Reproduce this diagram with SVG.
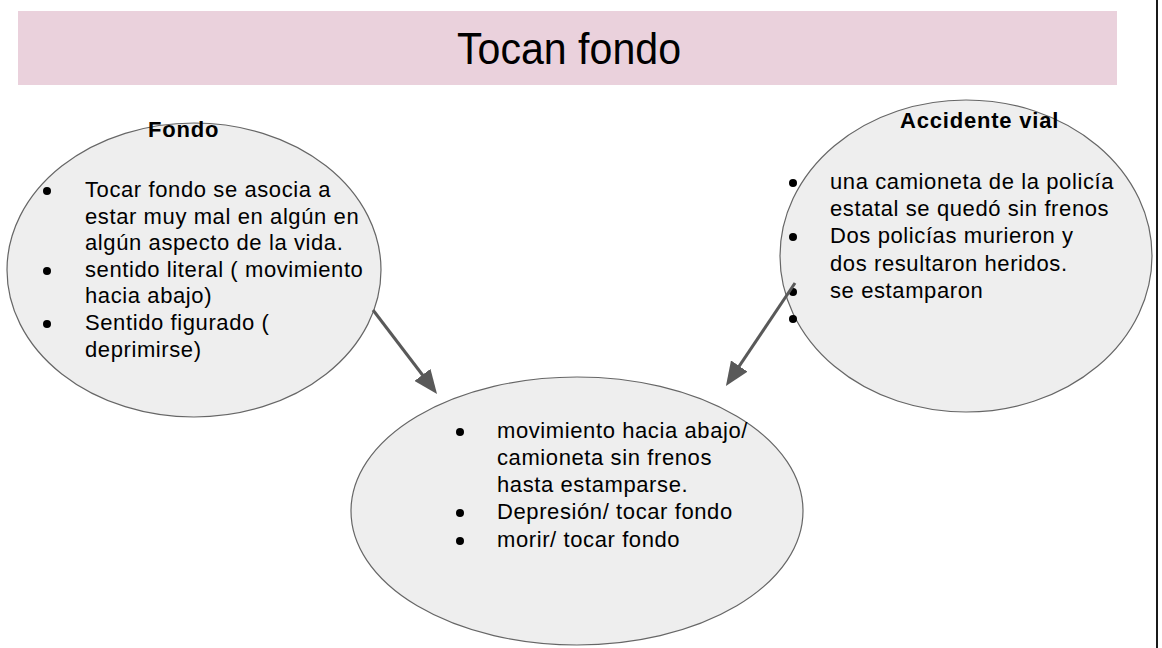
<svg xmlns="http://www.w3.org/2000/svg" width="1162" height="648" viewBox="0 0 1162 648">
  <style>
    .bub { fill: #eeeeee; stroke: #666666; stroke-width: 1.2; }
    .txt { font-family: "Liberation Sans", Arial, sans-serif; font-size: 22px; fill: #000000; letter-spacing: 0.6px; }
    .hd { font-family: "Liberation Sans", Arial, sans-serif; font-size: 22px; font-weight: bold; fill: #000000; letter-spacing: 0.8px; }
    .title { font-family: "Liberation Sans", Arial, sans-serif; font-size: 45px; fill: #000000; }
    .conn { stroke: #595959; stroke-width: 3; fill: none; }
    .dot { fill: #000000; }
  </style>
  <defs>
    <marker id="ah" viewBox="0 0 24 20" refX="2" refY="10" markerWidth="24" markerHeight="20" markerUnits="userSpaceOnUse" orient="auto">
      <path d="M0,0 L24,10 L0,20 z" fill="#595959"/>
    </marker>
  </defs>
  <rect x="0" y="0" width="1162" height="648" fill="#ffffff"/>
  <line x1="1157" y1="0" x2="1157" y2="648" stroke="#000000" stroke-width="1.8"/>

  <g id="title">
    <rect x="18" y="11" width="1099" height="74" fill="#ead1dc"/>
    <text class="title" x="457" y="64" textLength="224" lengthAdjust="spacingAndGlyphs">Tocan fondo</text>
  </g>

  <g id="fondo">
    <ellipse class="bub" cx="194" cy="270" rx="187" ry="147"/>
    <text class="hd" x="148" y="137">Fondo</text>
    <circle class="dot" cx="47" cy="191" r="4"/>
    <circle class="dot" cx="47" cy="271" r="4"/>
    <circle class="dot" cx="47" cy="324" r="4"/>
    <text class="txt" x="85" y="197">Tocar fondo se asocia a</text>
    <text class="txt" x="85" y="224">estar muy mal en algún en</text>
    <text class="txt" x="85" y="250">algún aspecto de la vida.</text>
    <text class="txt" x="85" y="277">sentido literal ( movimiento</text>
    <text class="txt" x="85" y="303">hacia abajo)</text>
    <text class="txt" x="85" y="330">Sentido figurado (</text>
    <text class="txt" x="85" y="357">deprimirse)</text>
  </g>

  <g id="accidente">
    <ellipse class="bub" cx="966" cy="256" rx="186" ry="156"/>
    <text class="hd" x="900" y="128">Accidente vial</text>
    <circle class="dot" cx="793" cy="183" r="4"/>
    <circle class="dot" cx="793" cy="237" r="4"/>
    <circle class="dot" cx="793" cy="292" r="4"/>
    <circle class="dot" cx="793" cy="319" r="4"/>
    <text class="txt" x="830" y="189">una camioneta de la policía</text>
    <text class="txt" x="830" y="216">estatal se quedó sin frenos</text>
    <text class="txt" x="830" y="243">Dos policías murieron y</text>
    <text class="txt" x="830" y="271">dos resultaron heridos.</text>
    <text class="txt" x="830" y="298">se estamparon</text>
  </g>

  <g id="sintesis">
    <ellipse class="bub" cx="577" cy="511" rx="226" ry="134"/>
    <circle class="dot" cx="460" cy="432" r="4"/>
    <circle class="dot" cx="460" cy="513" r="4"/>
    <circle class="dot" cx="460" cy="541" r="4"/>
    <text class="txt" x="497" y="438">movimiento hacia abajo/</text>
    <text class="txt" x="497" y="465">camioneta sin frenos</text>
    <text class="txt" x="497" y="492">hasta estamparse.</text>
    <text class="txt" x="497" y="519">Depresión/ tocar fondo</text>
    <text class="txt" x="497" y="547">morir/ tocar fondo</text>
  </g>

  <g id="connectors">
    <line class="conn" x1="373" y1="310" x2="423.7" y2="376.5" marker-end="url(#ah)"/>
    <line class="conn" x1="795" y1="283" x2="738.2" y2="367.7" marker-end="url(#ah)"/>
  </g>
</svg>
